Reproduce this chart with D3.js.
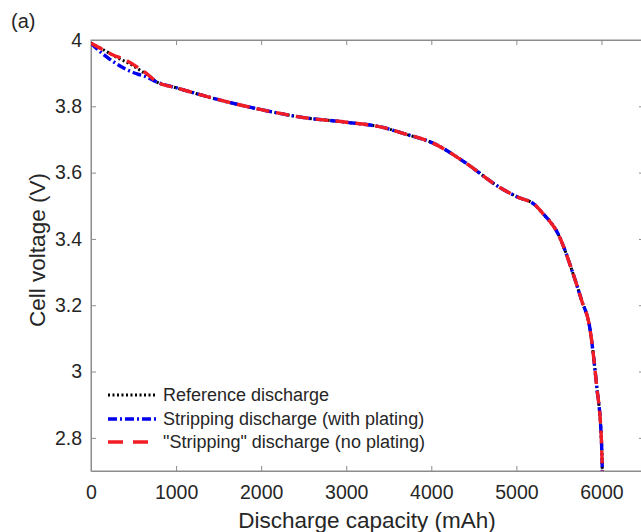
<!DOCTYPE html>
<html>
<head>
<meta charset="utf-8">
<script src="https://cdn.jsdelivr.net/npm/d3@7"></script>
<style>
  html, body { margin: 0; padding: 0; background: #fff; }
  svg { display: block; font-family: "Liberation Sans", Arial, sans-serif; }
</style>
</head>
<body>
<svg id="chart" width="641" height="532"></svg>
<script>
// Discharge curves: capacity (mAh) and cell voltage (V)
const tailCapacity = [776, 1000, 1500, 2000, 2500, 3000, 3400, 3700, 4020, 4400, 4800, 5000, 5220, 5300, 5500, 5660, 5766, 5864, 5942, 6000, 6010];
const tailVoltage  = [3.873, 3.856, 3.82, 3.79, 3.766, 3.752, 3.738, 3.716, 3.689, 3.63, 3.556, 3.528, 3.502, 3.48, 3.41, 3.30, 3.215, 3.13, 2.96, 2.79, 2.70];

const refCapacity = [0, 150, 300, 458, 600, 700];
const refVoltage  = [3.99, 3.97, 3.948, 3.928, 3.905, 3.888];

const withPlatingCapacity = [0, 130, 260, 400, 540, 658];
const withPlatingVoltage  = [3.99, 3.96, 3.935, 3.913, 3.898, 3.888];

const noPlatingCapacity = [0, 130, 260, 400, 540, 658];
const noPlatingVoltage  = [3.99, 3.972, 3.955, 3.94, 3.919, 3.898];

const xTicks = [0, 1000, 2000, 3000, 4000, 5000, 6000];
const yTicks = [2.8, 3, 3.2, 3.4, 3.6, 3.8, 4];

const legendLabels = ["Reference discharge", "Stripping discharge (with plating)", "\"Stripping\" discharge (no plating)"];

const svg = d3.select("#chart");
const margin = { left: 91, top: 40 };
const plotW = 553, plotH = 431;

const x = d3.scaleLinear().domain([0, 6500]).range([margin.left, margin.left + plotW]);
const y = d3.scaleLinear().domain([2.7, 4]).range([margin.top + plotH, margin.top]);

const axisColor = "#8c8c8c";
const textColor = "#262626";
const fontFamily = "'Liberation Sans', Arial, sans-serif";

// Plot frame
svg.append("rect")
  .attr("x", margin.left).attr("y", margin.top)
  .attr("width", plotW).attr("height", plotH)
  .attr("fill", "none").attr("stroke", axisColor).attr("stroke-width", 1);

// Axes with inward ticks on all four sides
const xAxis = svg.append("g").attr("transform", `translate(0,${margin.top + plotH})`)
  .call(d3.axisBottom(x).tickValues(xTicks).tickSizeInner(-5).tickSizeOuter(0).tickPadding(14).tickFormat(d3.format("d")));
const xAxisTop = svg.append("g").attr("transform", `translate(0,${margin.top})`)
  .call(d3.axisTop(x).tickValues(xTicks.filter(d => d > 0)).tickSizeInner(-5).tickSizeOuter(0).tickFormat(""));
const yAxis = svg.append("g").attr("transform", `translate(${margin.left},0)`)
  .call(d3.axisLeft(y).tickValues(yTicks).tickSizeInner(-5).tickSizeOuter(0).tickPadding(9).tickFormat(d => d3.format("~g")(d)));
const yAxisRight = svg.append("g").attr("transform", `translate(${margin.left + plotW},0)`)
  .call(d3.axisRight(y).tickValues(yTicks).tickSizeInner(-5).tickSizeOuter(0).tickFormat(""));

[xAxis, xAxisTop, yAxis, yAxisRight].forEach(g => {
  g.select(".domain").attr("stroke", axisColor);
  g.selectAll(".tick line").attr("stroke", axisColor);
  g.selectAll(".tick text").attr("fill", textColor).attr("font-size", 19.5)
    .attr("font-family", fontFamily);
});

// Axis titles and panel tag
svg.append("text")
  .attr("x", 367).attr("y", 528)
  .attr("text-anchor", "middle").attr("font-size", 22.5).attr("fill", textColor)
  .text("Discharge capacity (mAh)");
svg.append("text")
  .attr("transform", `translate(45,250) rotate(-90)`)
  .attr("text-anchor", "middle").attr("font-size", 22.5).attr("fill", textColor)
  .text("Cell voltage (V)");
svg.append("text")
  .attr("x", 11).attr("y", 28).attr("font-size", 20).attr("fill", textColor)
  .text("(a)");

// Series
const zip = (cs, vs) => cs.map((c, i) => [c, vs[i]]);
const line = d3.line().x(d => x(d[0])).y(d => y(d[1])).curve(d3.curveMonotoneX);

const series = [
  { data: zip(refCapacity, refVoltage).concat(zip(tailCapacity, tailVoltage)), color: "#000000", dash: "2,2.5", width: 3 },
  { data: zip(withPlatingCapacity, withPlatingVoltage).concat(zip(tailCapacity, tailVoltage)), color: "#0000ee", dash: "9,3,2,3", width: 3.4 },
  { data: zip(noPlatingCapacity, noPlatingVoltage).concat(zip(tailCapacity, tailVoltage)), color: "#f21c24", dash: "13,7", width: 3.4 }
];

svg.append("clipPath").attr("id", "plotClip")
  .append("rect").attr("x", margin.left).attr("y", margin.top).attr("width", plotW).attr("height", plotH);

svg.append("g").attr("clip-path", "url(#plotClip)")
  .selectAll("path").data(series).join("path")
  .attr("d", d => line(d.data))
  .attr("fill", "none")
  .attr("stroke", d => d.color)
  .attr("stroke-width", d => d.width)
  .attr("stroke-dasharray", d => d.dash);

// Legend
const legend = svg.append("g");
const rowY = [395, 419, 442];
const legendDash = ["2,2.5", "9,3,2,3", "15,10"];
series.forEach((s, i) => {
  legend.append("line")
    .attr("x1", 108).attr("x2", 157).attr("y1", rowY[i]).attr("y2", rowY[i])
    .attr("stroke", s.color).attr("stroke-width", s.width).attr("stroke-dasharray", legendDash[i]);
  legend.append("text")
    .attr("x", 163).attr("y", rowY[i]).attr("dy", "0.35em")
    .attr("font-size", 18).attr("fill", textColor)
    .text(legendLabels[i]);
});
</script>
</body>
</html>
